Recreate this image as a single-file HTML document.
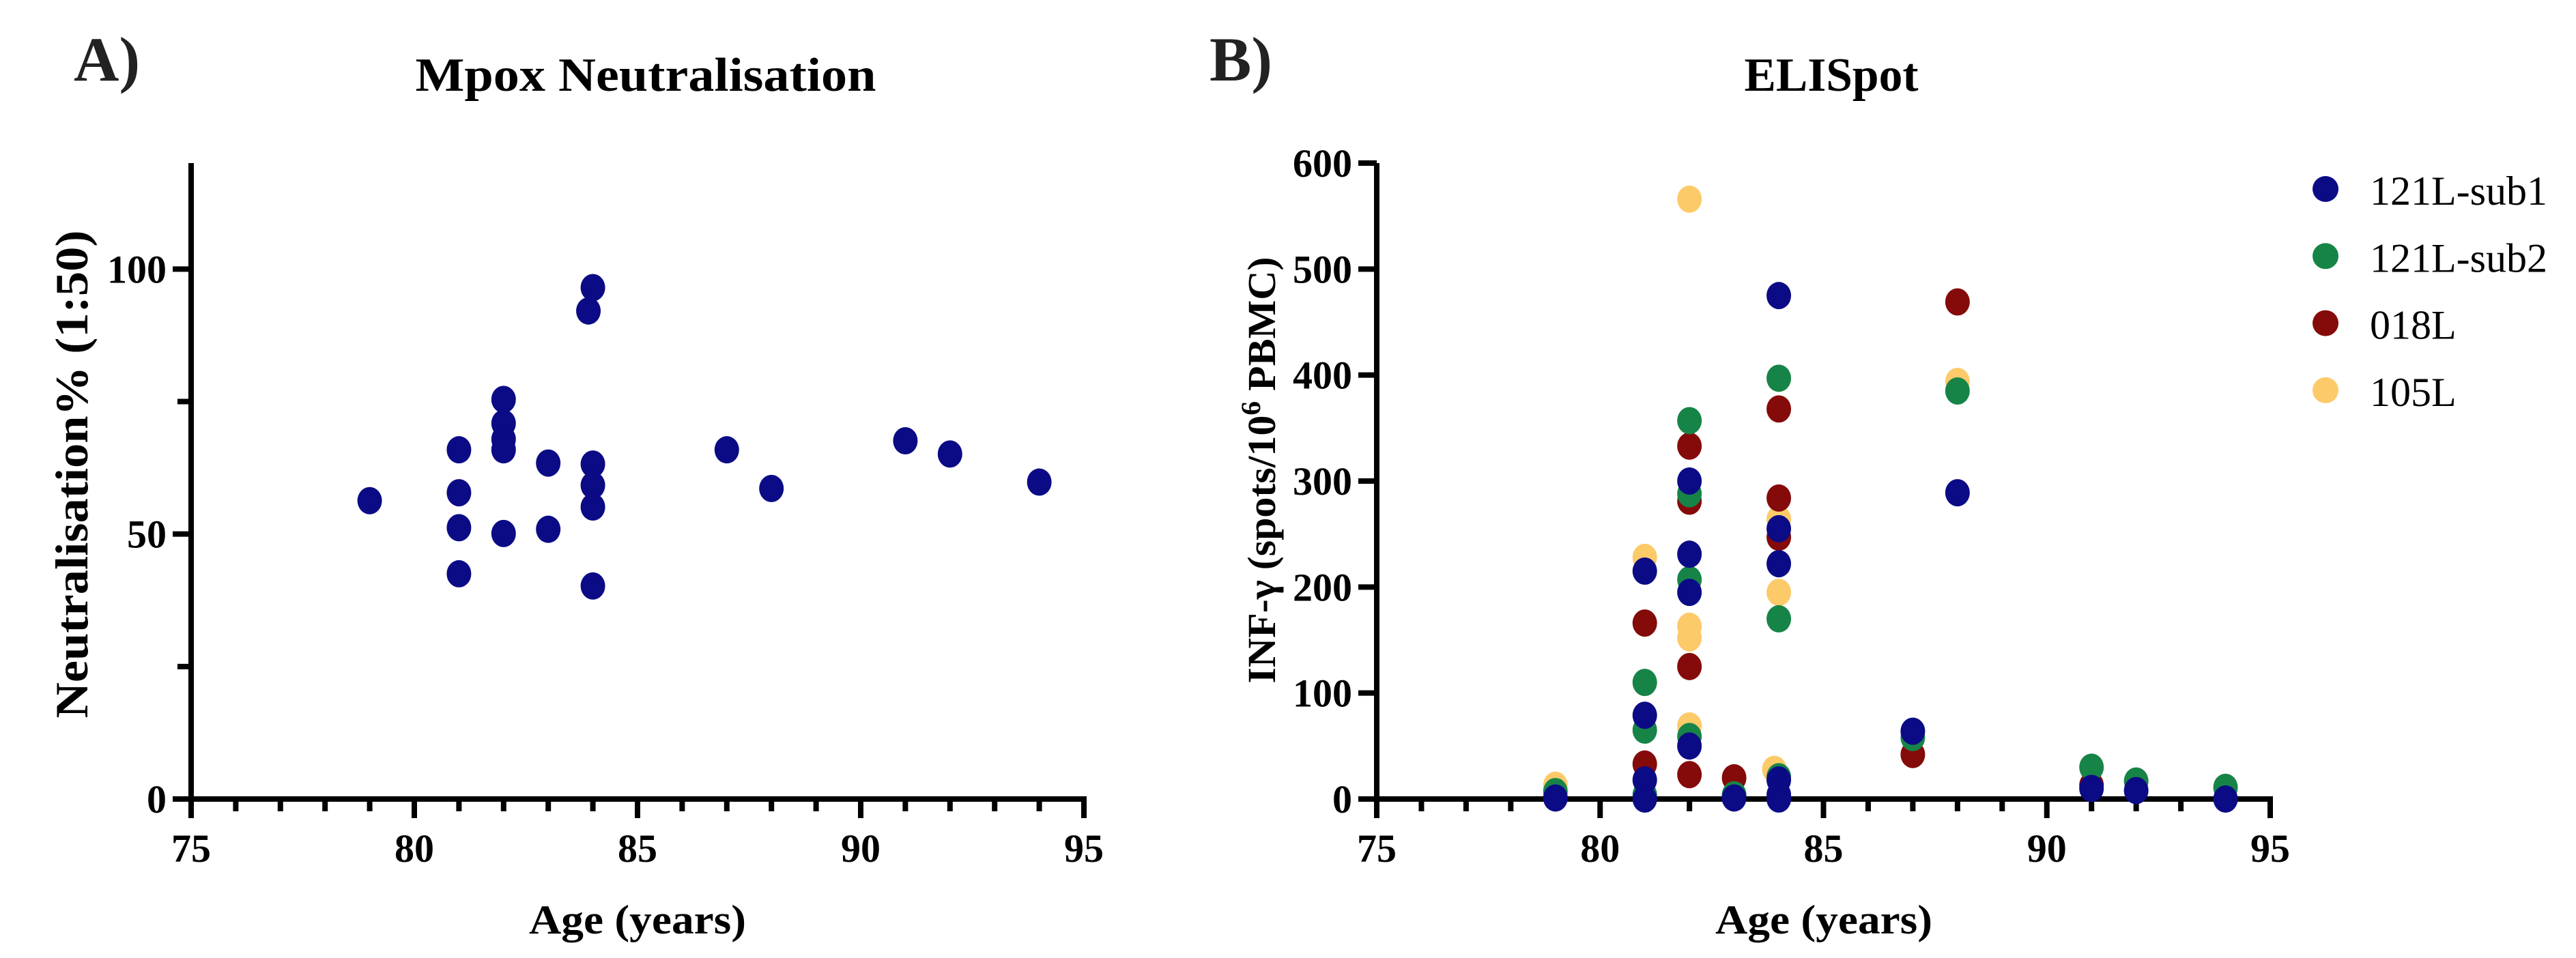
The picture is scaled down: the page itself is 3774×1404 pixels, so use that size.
<!DOCTYPE html>
<html><head><meta charset="utf-8"><style>
html,body{margin:0;padding:0;background:#fff;}
svg{display:block;font-family:"Liberation Serif",serif;}
</style></head><body>
<svg id="fig" width="3774" height="1404" viewBox="0 0 3774 1404" xmlns="http://www.w3.org/2000/svg">
<text x="108" y="118" font-size="92" font-weight="bold" fill="#222">A)</text>
<text x="946" y="133" font-size="70" font-weight="bold" text-anchor="middle" textLength="675" lengthAdjust="spacingAndGlyphs">Mpox Neutralisation</text>
<text x="1772" y="118" font-size="92" font-weight="bold" fill="#222">B)</text>
<text x="2683" y="133" font-size="70" font-weight="bold" text-anchor="middle" textLength="255" lengthAdjust="spacingAndGlyphs">ELISpot</text>
<text transform="translate(128,695) rotate(-90)" font-size="68" font-weight="bold" text-anchor="middle" textLength="715" lengthAdjust="spacingAndGlyphs">Neutralisation% (1:50)</text>
<text transform="translate(1868,689) rotate(-90)" font-size="58" font-weight="bold" text-anchor="middle" textLength="625" lengthAdjust="spacingAndGlyphs">INF-γ (spots/10<tspan dy="-22" font-size="40">6</tspan><tspan dy="22"> PBMC)</tspan></text>
<text x="934" y="1368" font-size="60" font-weight="bold" text-anchor="middle" textLength="318" lengthAdjust="spacingAndGlyphs">Age (years)</text>
<text x="2672" y="1368" font-size="60" font-weight="bold" text-anchor="middle" textLength="318" lengthAdjust="spacingAndGlyphs">Age (years)</text>
<g id="gA"></g>
<g id="gB"></g>
<g id="legend"></g>
</svg>
<script>
const ageTicks = [75, 80, 85, 90, 95];
const yTicksA = [0, 50, 100];
const yTicksB = [0, 100, 200, 300, 400, 500, 600];
const agesA = [79,81,81,81,81,82,82,82,82,82,83,83,83.9,84,84,84,84,84,87,88,91,92,94];
const neutA = [56.3,65.9,57.8,51.2,42.5,75.4,70.9,67.9,65.9,50.1,63.4,50.9,92.1,96.5,63.2,59.2,55.1,40.2,65.9,58.6,67.6,65.1,59.8];
const seriesNames = ["121L-sub1","121L-sub2","018L","105L"];
const seriesColors = ["#0b0b86","#178447","#850a0a","#fdca6a"];
const sub1Ages = [79,81,81,81,81,82,82,82,82,83,84,84,84,84,84,84,87,88,91,92,94];
const sub1Vals = [1,215,79,18,0,300,231,195,50,1,475,255,222,18,4,0,64,289,10,8,0];
const sub2Ages = [79,81,81,81,82,82,82,82,83,84,84,84,87,88,91,92,94];
const sub2Vals = [7,110,65,4,357,288,207,59,4,397,170,21,58,385,30,17,11];
const l018Ages = [81,81,82,82,82,82,83,84,84,84,87,88,91];
const l018Vals = [166,33,333,281,125,23,20,368,284,247,42,469,13];
const l105Ages = [79,81,82,82,82,82,84,84,83.9,88,91];
const l105Vals = [13,228,566,163,152,69,264,195,28,394,13];

const NS="http://www.w3.org/2000/svg";
function mk(tag, attrs, parent){const e=document.createElementNS(NS,tag);for(const k in attrs)e.setAttribute(k,attrs[k]);parent.appendChild(e);return e;}

function axes(g, x0, x1, y0, y1, ymax, yTicks, yMinor, tag){
  const xs = a => x0 + (a-75)/20*(x1-x0);
  const ys = v => y0 - v/ymax*(y0-y1);
  let e;
  e=mk('line',{x1:x0,y1:y1,x2:x0,y2:1199,stroke:'#000','stroke-width':8},g);
  
  
  e=mk('line',{x1:x0-27,y1:y0,x2:x1+4,y2:y0,stroke:'#000','stroke-width':8},g);
  
  
  for(let a=76;a<=95;a++){
    const major=(a%5===0);
    e=mk('line',{x1:xs(a),y1:y0,x2:xs(a),y2:major?1199:1189,stroke:'#000','stroke-width':8},g);
    
    
  }
  ageTicks.forEach(a=>{
    e=mk('text',{x:xs(a),y:1263,'font-size':58,'font-weight':'bold','text-anchor':'middle'},g);
    e.textContent=a;
    
    
  });
  yTicks.forEach(v=>{
    e=mk('line',{x1:x0-27,y1:ys(v),x2:x0,y2:ys(v),stroke:'#000','stroke-width':8},g);
    
    
    e=mk('text',{x:x0-36,y:ys(v)+20,'font-size':58,'font-weight':'bold','text-anchor':'end'},g);
    e.textContent=v;
    
    
  });
  yMinor.forEach(v=>{
    e=mk('line',{x1:x0-20,y1:ys(v),x2:x0,y2:ys(v),stroke:'#000','stroke-width':8},g);
    
    
  });
  return {xs, ys};
}

const A = axes(document.getElementById('gA'), 280, 1588, 1171, 239, 120, yTicksA, [25,75], 'a');
const gA=document.getElementById('gA');
agesA.forEach((a,i)=>{
  const c=mk('ellipse',{cx:A.xs(a),cy:A.ys(neutA[i]),rx:18,ry:20,fill:'#0b0b86'},gA);
  
  
});

const B = axes(document.getElementById('gB'), 2017, 3326, 1171, 239, 600, yTicksB, [], 'b');
const gB=document.getElementById('gB');
const drawOrder=[[l105Ages,l105Vals,3],[l018Ages,l018Vals,2],[sub2Ages,sub2Vals,1],[sub1Ages,sub1Vals,0]];
drawOrder.forEach(([ages,vals,si])=>{
  ages.forEach((a,i)=>{
    const c=mk('ellipse',{cx:B.xs(a),cy:B.ys(vals[i]),rx:18,ry:20,fill:seriesColors[si]},gB);
    
    
  });
});

const lg=document.getElementById('legend');
seriesNames.forEach((n,i)=>{
  const y=277+i*98.3;
  const c=mk('ellipse',{cx:3407,cy:y,rx:19,ry:19,fill:seriesColors[i]},lg);
  
  
  const t=mk('text',{x:3472,y:y+23,'font-size':60},lg);
  t.textContent=n;
  
  
});
</script>
</body></html>
